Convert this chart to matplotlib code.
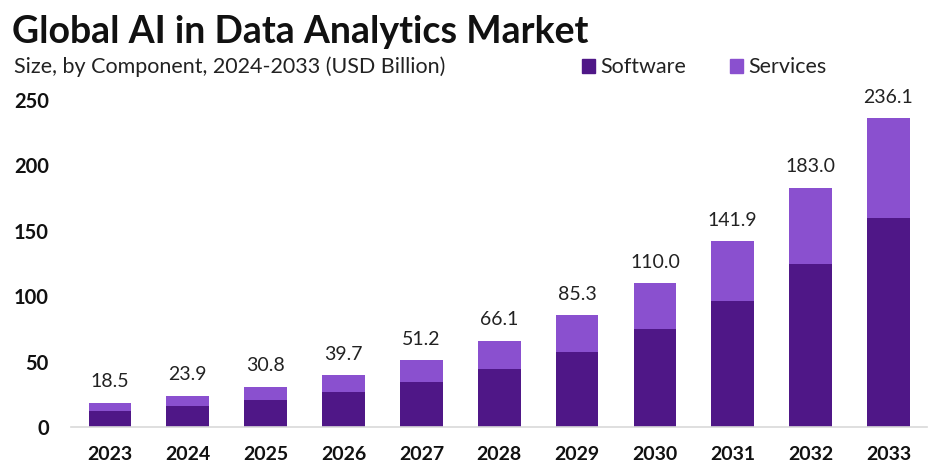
import numpy as np
import matplotlib.pyplot as plt

dpi = 100

years = ['2023', '2024', '2025', '2026', '2027', '2028', '2029', '2030', '2031', '2032', '2033']
totals = [18.5, 23.9, 30.8, 39.7, 51.2, 66.1, 85.3, 110.0, 141.9, 183.0, 236.1]
software = [12.4, 16.0, 20.6, 26.6, 34.3, 44.3, 57.2, 74.6, 96.2, 124.4, 160.0]
services = [round(t - s, 1) for t, s in zip(totals, software)]
yticks = [0, 50, 100, 150, 200, 250]

c_soft = '#4f1787'
c_serv = '#8a50cf'
font = 'Lato'

fig = plt.figure(figsize=(9.38, 4.71), dpi=dpi)
ax = fig.add_axes([0.0757, 0.0934, 0.913, 0.736])

xx = np.arange(len(years))
ax.bar(xx, software, width=0.55, color=c_soft)
ax.bar(xx, services, width=0.55, bottom=software, color=c_serv)

for x, t in zip(xx, totals):
    ax.annotate(f'{t:.1f}', (x, t), xytext=(0, 9), textcoords='offset points',
                ha='center', va='bottom', fontsize=14, color='#222222', family=font)

ax.set_xlim(-0.5, len(years) - 0.5)
ax.set_ylim(0, 265)
ax.set_xticks(xx)
ax.set_xticklabels(years, fontsize=14, fontweight='bold', family=font, color='#111111')
ax.set_yticks(yticks)
ax.set_yticklabels([str(v) for v in yticks], fontsize=14.5, fontweight='bold', family=font, color='#111111')
ax.tick_params(axis='y', length=0, pad=16)
ax.tick_params(axis='x', length=0, pad=14)

for s in ['top', 'right', 'left']:
    ax.spines[s].set_visible(False)
ax.spines['bottom'].set_color('#d9d9d9')
ax.spines['bottom'].set_linewidth(1.2)

fig.text(0.013, 0.933, 'Global AI in Data Analytics Market', fontsize=27, fontweight='bold',
         family=font, color='#111111', va='center')
fig.text(0.015, 0.858, 'Size, by Component, 2024-2033 (USD Billion)', fontsize=15.5,
         family=font, color='#222222', va='center')

fig.patches.append(plt.Rectangle((0.62, 0.845), 0.014, 0.029, transform=fig.transFigure,
                                 color=c_soft))
fig.text(0.64, 0.858, 'Software', fontsize=15.5, family=font, color='#222222', va='center')
fig.patches.append(plt.Rectangle((0.778, 0.845), 0.014, 0.029, transform=fig.transFigure,
                                 color=c_serv))
fig.text(0.798, 0.858, 'Services', fontsize=15.5, family=font, color='#222222', va='center')

fig.savefig('out.png', dpi=dpi)
